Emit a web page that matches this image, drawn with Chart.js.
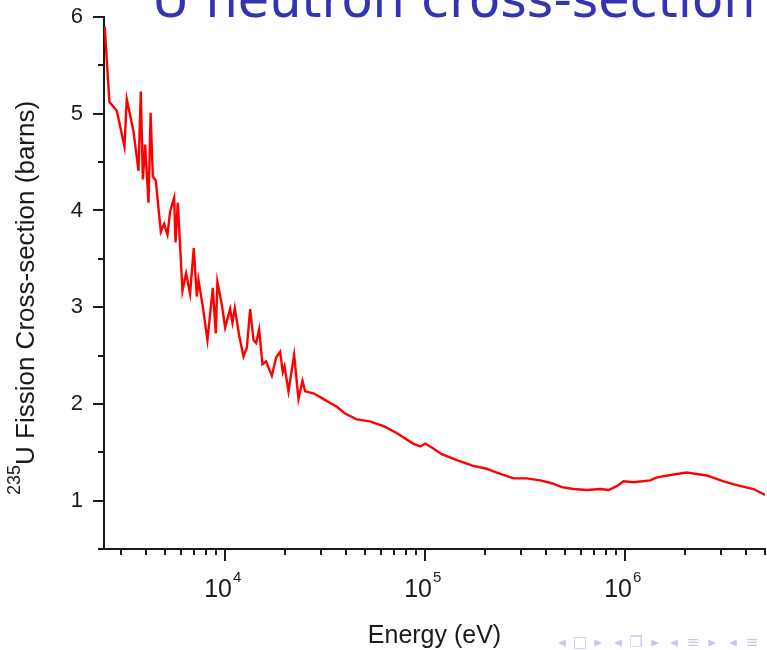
<!DOCTYPE html>
<html>
<head>
<meta charset="utf-8">
<script src="https://cdn.jsdelivr.net/npm/chart.js@4.4.1/dist/chart.umd.min.js"></script>
<style>
  html, body { margin: 0; padding: 0; background: #fff; }
  canvas { display: block; }
</style>
</head>
<body>
<canvas id="graficoSecao" width="767" height="650"></canvas>
<script>
// energia (eV) e secao de choque de fissao do U-235 (barns)
const energias = [
  2500, 2640, 2874, 3139, 3223, 3481, 3690, 3788, 3880, 3981,
  4140, 4240, 4350, 4500, 4770, 4955, 5150, 5310, 5560, 5650,
  5800, 6120, 6380, 6680, 6970, 7220, 7360, 7730, 8160, 8680,
  8980, 9150, 9620, 10000, 10590, 10880, 11180, 11750, 12350, 12840,
  13340, 13860, 14290, 14790, 15370, 16030, 17120, 17990, 18840, 19420,
  19810, 20740, 22130, 23270, 24360, 25120, 27650, 30500, 33500, 36200,
  39800, 45500, 53000, 62000, 72000, 87000, 94500, 100000, 108000, 121000,
  144000, 174000, 203000, 228000, 277000, 322000, 376000, 430000, 482000, 551000,
  643000, 750000, 825000, 908000, 981000, 1100000, 1334000, 1440000, 1744000, 2033000,
  2560000, 3103000, 3616000, 4382000, 5000000
];
const secao = [
  5.90, 5.12, 5.03, 4.66, 5.15, 4.82, 4.41, 5.23, 4.32, 4.68,
  4.08, 5.01, 4.35, 4.31, 3.78, 3.86, 3.75, 3.99, 4.13, 3.67,
  4.08, 3.17, 3.35, 3.14, 3.61, 3.11, 3.28, 3.01, 2.66, 3.20,
  2.73, 3.26, 3.03, 2.79, 2.98, 2.84, 2.99, 2.71, 2.49, 2.58,
  2.98, 2.66, 2.63, 2.77, 2.41, 2.44, 2.29, 2.48, 2.54, 2.33,
  2.39, 2.13, 2.51, 2.05, 2.24, 2.13, 2.11, 2.06, 2.01, 1.97,
  1.90, 1.84, 1.82, 1.77, 1.70, 1.59, 1.56, 1.59, 1.55, 1.48,
  1.42, 1.36, 1.33, 1.29, 1.23, 1.23, 1.21, 1.18, 1.14, 1.12,
  1.11, 1.12, 1.11, 1.15, 1.20, 1.19, 1.21, 1.24, 1.27, 1.29,
  1.26, 1.20, 1.16, 1.12, 1.06
];
const decadas = [1e3, 1e4, 1e5, 1e6];
const mantissas = [1, 2, 3, 4, 5, 6, 7, 8, 9];
const rotulosX = [1e4, 1e5, 1e6];

const tituloSlide = "U neutron cross-section";
const tituloY = "U Fission Cross-section (barns)";
const tituloX = "Energy (eV)";

const corEixo = "#1a1a1a";
const fonte = "'Liberation Sans', Arial, sans-serif";

function semFolga(scale) {
  scale.paddingTop = 0;
  scale.paddingBottom = 0;
  scale.paddingLeft = 0;
  scale.paddingRight = 0;
}

const decoracao = {
  id: "decoracao",
  afterDraw(chart) {
    const c = chart.ctx;
    const sx = chart.scales.x, sy = chart.scales.y;
    const area = chart.chartArea;
    c.save();
    c.strokeStyle = corEixo;
    c.lineWidth = 2;
    // marcas do eixo x
    sx.ticks.forEach(t => {
      const px = Math.round(sx.getPixelForValue(t.value));
      const maior = rotulosX.includes(t.value);
      c.beginPath();
      c.moveTo(px, area.bottom);
      c.lineTo(px, area.bottom + (maior ? 12 : 6));
      c.stroke();
    });
    // marcas do eixo y
    sy.ticks.forEach(t => {
      const py = Math.round(sy.getPixelForValue(t.value));
      const maior = Number.isInteger(t.value);
      c.beginPath();
      c.moveTo(area.left, py);
      c.lineTo(area.left - (maior ? 11 : 6), py);
      c.stroke();
    });
    // rotulos 10^n
    c.fillStyle = corEixo;
    c.textBaseline = "alphabetic";
    c.textAlign = "left";
    rotulosX.forEach(v => {
      const px = sx.getPixelForValue(v);
      const exp = String(Math.round(Math.log10(v)));
      c.font = "25px " + fonte;
      const w = c.measureText("10").width;
      c.fillText("10", px - 21, 597);
      c.font = "15px " + fonte;
      c.fillText(exp, px - 21 + w + 1, 582);
    });
    // titulo do eixo x
    c.font = "25px " + fonte;
    c.textAlign = "center";
    c.fillText(tituloX, (area.left + area.right) / 2, 643);
    // titulo do eixo y (com sobrescrito)
    c.save();
    c.translate(34, 495);
    c.rotate(-Math.PI / 2);
    c.textAlign = "left";
    c.font = "18px " + fonte;
    const wSup = c.measureText("235").width;
    c.fillText("235", 0, -14);
    c.font = "26px " + fonte;
    c.fillText(tituloY, wSup, 0);
    c.restore();
    // titulo do slide (cortado no topo)
    c.fillStyle = "#3333b3";
    c.textAlign = "left";
    c.font = "35px 'DejaVu Sans', sans-serif";
    c.fillText("235", 96, -4);
    c.font = "51px 'DejaVu Sans', sans-serif";
    c.fillText(tituloSlide, 152, 17);
    // simbolos de navegacao
    c.fillStyle = "#c6c6ea";
    c.font = "15px 'DejaVu Sans', sans-serif";
    c.textAlign = "center";
    c.textBaseline = "middle";
    const nav = [["◂", 562], ["□", 580], ["▸", 598], ["◂", 618], ["❐", 636], ["▸", 655],
                 ["◂", 674], ["≡", 693], ["▸", 712], ["◂", 733], ["≡", 752]];
    nav.forEach(([s, x]) => c.fillText(s, x, 643));
    c.restore();
  }
};

const ctx = document.getElementById("graficoSecao").getContext("2d");
new Chart(ctx, {
  type: "line",
  data: {
    datasets: [{
      label: "235U",
      data: energias.map((e, i) => ({ x: e, y: secao[i] })),
      borderColor: "#ff0000",
      borderWidth: 2.4,
      pointRadius: 0,
      tension: 0,
      fill: false
    }]
  },
  options: {
    responsive: false,
    animation: false,
    layout: { padding: { top: 17, right: 2, left: 0, bottom: 0 } },
    plugins: { legend: { display: false }, tooltip: { enabled: false } },
    scales: {
      x: {
        type: "logarithmic",
        min: 2480,
        max: 5.0e6,
        grid: { display: false, drawTicks: false },
        border: { display: true, color: corEixo, width: 2 },
        ticks: { display: false },
        afterBuildTicks(scale) {
          const lista = [];
          decadas.forEach(d => mantissas.forEach(m => {
            const v = d * m;
            if (v >= scale.min && v <= scale.max) lista.push({ value: v });
          }));
          scale.ticks = lista;
        },
        afterFit(scale) { scale.height = 101; semFolga(scale); }
      },
      y: {
        min: 0.5,
        max: 6,
        grid: { display: false, drawTicks: false },
        border: { display: true, color: corEixo, width: 2 },
        ticks: {
          stepSize: 0.5,
          padding: 21,
          color: corEixo,
          font: { size: 22, family: fonte },
          autoSkip: false,
          callback: v => (Number.isInteger(v) ? v : "")
        },
        afterFit(scale) { scale.width = 104; semFolga(scale); }
      }
    }
  },
  plugins: [decoracao]
});
</script>
</body>
</html>
